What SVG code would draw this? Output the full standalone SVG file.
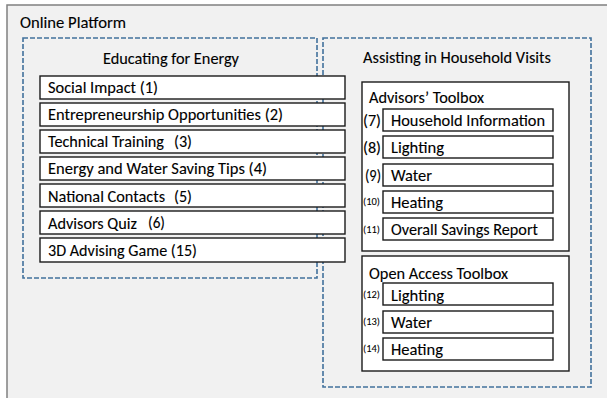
<svg xmlns="http://www.w3.org/2000/svg" width="607" height="398" viewBox="0 0 607 398">
<style>
text{font-family:Carlito,"Liberation Sans",Arial,sans-serif;fill:#000;stroke:#000;stroke-width:0.12;}
.t{font-size:17px;}
.s{font-size:11px;stroke-width:0.08;}
.box{fill:#fff;stroke:#1a1a1a;stroke-width:1.4;}
.dash{fill:none;stroke:#41719c;stroke-width:1.6;stroke-dasharray:5 2;}
</style>
<rect id="panel" x="7" y="5" width="640" height="440" fill="#f1f1f1" stroke="#808080" stroke-width="1.5"/>
<text class="t" x="20" y="28" textLength="106" lengthAdjust="spacingAndGlyphs">Online Platform</text>

<g id="educating">
<rect class="dash" x="23" y="38" width="294" height="240"/>
<text class="t" x="103" y="63.5" textLength="136" lengthAdjust="spacingAndGlyphs">Educating for Energy</text>
</g>
<g id="assisting">
<rect class="dash" x="323" y="38" width="268" height="349"/>
<text class="t" x="363" y="63" textLength="188" lengthAdjust="spacingAndGlyphs">Assisting in Household Visits</text>
</g>

<g id="n1"><rect class="box" x="40" y="76" width="305" height="23"/>
<text class="t" x="48" y="93" textLength="110" lengthAdjust="spacingAndGlyphs">Social Impact  (1)</text></g>
<g id="n2"><rect class="box" x="40" y="103" width="305" height="23"/>
<text class="t" x="48" y="120" textLength="235" lengthAdjust="spacingAndGlyphs">Entrepreneurship Opportunities (2)</text></g>
<g id="n3"><rect class="box" x="40" y="130" width="305" height="23"/>
<text class="t" x="48" y="147" textLength="116" lengthAdjust="spacingAndGlyphs">Technical Training</text>
<text class="t" x="174" y="147" textLength="18" lengthAdjust="spacingAndGlyphs">(3)</text></g>
<g id="n4"><rect class="box" x="40" y="157" width="305" height="23"/>
<text class="t" x="48" y="174" textLength="219" lengthAdjust="spacingAndGlyphs">Energy and Water Saving Tips (4)</text></g>
<g id="n5"><rect class="box" x="40" y="184" width="305" height="23"/>
<text class="t" x="48" y="201.5" textLength="117" lengthAdjust="spacingAndGlyphs">National Contacts</text>
<text class="t" x="174" y="201.5" textLength="18" lengthAdjust="spacingAndGlyphs">(5)</text></g>
<g id="n6"><rect class="box" x="40" y="211" width="305" height="23"/>
<text class="t" x="48" y="228.5" textLength="89" lengthAdjust="spacingAndGlyphs">Advisors Quiz</text>
<text class="t" x="148" y="227.5" textLength="17" lengthAdjust="spacingAndGlyphs">(6)</text></g>
<g id="n15"><rect class="box" x="40" y="238" width="305" height="24"/>
<text class="t" x="48" y="256" textLength="149" lengthAdjust="spacingAndGlyphs">3D Advising Game (15)</text></g>

<g id="advisors-toolbox"><rect class="box" x="362" y="82" width="207" height="169"/>
<text class="t" x="369" y="103" textLength="115" lengthAdjust="spacingAndGlyphs">Advisors’ Toolbox</text></g>
<g id="n7"><rect class="box" x="383" y="109" width="170" height="22"/>
<text class="t" x="363" y="126" textLength="18" lengthAdjust="spacingAndGlyphs">(7)</text>
<text class="t" x="391" y="126" textLength="154" lengthAdjust="spacingAndGlyphs">Household Information</text></g>
<g id="n8"><rect class="box" x="383" y="136" width="170" height="22"/>
<text class="t" x="363" y="153" textLength="18" lengthAdjust="spacingAndGlyphs">(8)</text>
<text class="t" x="391" y="153" textLength="53" lengthAdjust="spacingAndGlyphs">Lighting</text></g>
<g id="n9"><rect class="box" x="383" y="164" width="170" height="22"/>
<text class="t" x="365" y="180.5" textLength="16" lengthAdjust="spacingAndGlyphs">(9)</text>
<text class="t" x="391" y="180.5" textLength="41" lengthAdjust="spacingAndGlyphs">Water</text></g>
<g id="n10"><rect class="box" x="383" y="191" width="170" height="22"/>
<text class="s" x="363" y="205" textLength="17" lengthAdjust="spacingAndGlyphs">(10)</text>
<text class="t" x="391" y="207.5" textLength="52" lengthAdjust="spacingAndGlyphs">Heating</text></g>
<g id="n11"><rect class="box" x="383" y="218" width="170" height="22"/>
<text class="s" x="363" y="232.5" textLength="17" lengthAdjust="spacingAndGlyphs">(11)</text>
<text class="t" x="391" y="235" textLength="147" lengthAdjust="spacingAndGlyphs">Overall Savings Report</text></g>

<g id="open-access-toolbox"><rect class="box" x="362" y="256" width="207" height="115"/>
<text class="t" x="369" y="279" textLength="139" lengthAdjust="spacingAndGlyphs">Open Access Toolbox</text></g>
<g id="n12"><rect class="box" x="383" y="283" width="170" height="22"/>
<text class="s" x="363" y="298" textLength="17" lengthAdjust="spacingAndGlyphs">(12)</text>
<text class="t" x="391" y="300.5" textLength="53" lengthAdjust="spacingAndGlyphs">Lighting</text></g>
<g id="n13"><rect class="box" x="383" y="311" width="170" height="22"/>
<text class="s" x="363" y="325" textLength="17" lengthAdjust="spacingAndGlyphs">(13)</text>
<text class="t" x="391" y="327.5" textLength="41" lengthAdjust="spacingAndGlyphs">Water</text></g>
<g id="n14"><rect class="box" x="383" y="338" width="170" height="22"/>
<text class="s" x="363" y="352" textLength="17" lengthAdjust="spacingAndGlyphs">(14)</text>
<text class="t" x="391" y="354.5" textLength="52" lengthAdjust="spacingAndGlyphs">Heating</text></g>

<g id="connectors"></g>
</svg>
